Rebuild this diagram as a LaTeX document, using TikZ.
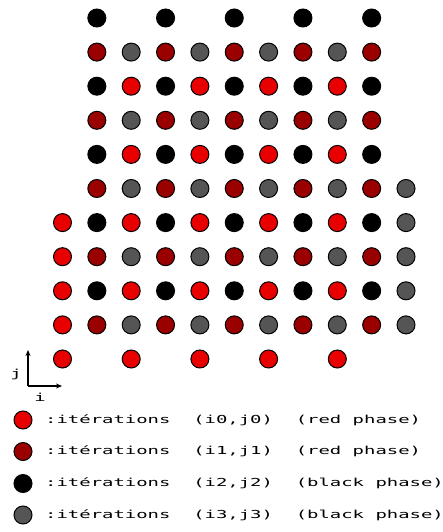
\documentclass[tikz,border=0pt]{standalone}
\usepackage{fontspec}
\usetikzlibrary{arrows.meta}
\newfontfamily\legfont[FakeStretch=1.72]{DejaVu Sans Mono}
\definecolor{cRed}{RGB}{232,0,0}
\definecolor{cDark}{RGB}{155,0,0}
\definecolor{cGray}{RGB}{85,85,85}
\begin{document}
\begin{tikzpicture}[x=1pt,y=-1pt,
  dot/.style={circle,draw=black,line width=1pt,minimum size=18pt,inner sep=0pt},
  rdot/.style={dot,fill=cRed},
  ddot/.style={dot,fill=cDark},
  kdot/.style={dot,fill=black},
  gdot/.style={dot,fill=cGray},
  legtext/.style={anchor=west,inner sep=0pt,font=\legfont\fontsize{11}{11}\selectfont},
  axlabel/.style={inner sep=0pt,font=\legfont\fontsize{11}{11}\selectfont},
  axarrow/.style={line width=1.3pt,-{Stealth[length=6pt,width=5pt]}}
]
\useasboundingbox (0,0) rectangle (443,532);
% row 0
\foreach \c in {1,3,5,7,9} \node[kdot] (n-\c-0) at ({62.5+34.35*\c},18) {};
% rows 1,3 : dark red / gray
\foreach \r/\y in {1/52.1,3/120.3}{
  \foreach \c in {1,3,5,7,9} \node[ddot] (n-\c-\r) at ({62.5+34.35*\c},\y) {};
  \foreach \c in {2,4,6,8} \node[gdot] (n-\c-\r) at ({62.5+34.35*\c},\y) {};
}
% rows 2,4 : black / red
\foreach \r/\y in {2/86.2,4/154.4}{
  \foreach \c in {1,3,5,7,9} \node[kdot] (n-\c-\r) at ({62.5+34.35*\c},\y) {};
  \foreach \c in {2,4,6,8} \node[rdot] (n-\c-\r) at ({62.5+34.35*\c},\y) {};
}
% row 5
\foreach \c in {1,3,5,7,9} \node[ddot] (n-\c-5) at ({62.5+34.35*\c},188.5) {};
\foreach \c in {2,4,6,8,10} \node[gdot] (n-\c-5) at ({62.5+34.35*\c},188.5) {};
% rows 6,8
\foreach \r/\y in {6/222.6,8/290.8}{
  \foreach \c in {0,2,4,6,8} \node[rdot] (n-\c-\r) at ({62.5+34.35*\c},\y) {};
  \foreach \c in {1,3,5,7,9} \node[kdot] (n-\c-\r) at ({62.5+34.35*\c},\y) {};
  \node[gdot] (n-10-\r) at ({62.5+34.35*10},\y) {};
}
% rows 7,9
\foreach \r/\y in {7/256.7,9/324.9}{
  \node[rdot] (n-0-\r) at (62.5,\y) {};
  \foreach \c in {1,3,5,7,9} \node[ddot] (n-\c-\r) at ({62.5+34.35*\c},\y) {};
  \foreach \c in {2,4,6,8,10} \node[gdot] (n-\c-\r) at ({62.5+34.35*\c},\y) {};
}
% row 10
\foreach \c in {0,2,4,6,8} \node[rdot] (n-\c-10) at ({62.5+34.35*\c},359) {};
% axes
\coordinate (o) at (28,386);
\coordinate (jtip) at (28,350);
\coordinate (itip) at (62,386);
\draw[axarrow] (o) -- (jtip);
\draw[axarrow] (o) -- (itip);
\node[axlabel] (jl) at (16,374) {j};
\node[axlabel] (il) at (40,397) {i};
% legend
\node[rdot] (l0) at (23,420) {};
\node[ddot] (l1) at (23,451.5) {};
\node[kdot] (l2) at (23,483.5) {};
\node[gdot] (l3) at (23,515) {};
\node[legtext] (t0) at (45,420) {:itérations~~(i0,j0)~~(red phase)};
\node[legtext] (t1) at (45,451.5) {:itérations~~(i1,j1)~~(red phase)};
\node[legtext] (t2) at (45,483.5) {:itérations~~(i2,j2)~~(black phase)};
\node[legtext] (t3) at (45,515) {:itérations~~(i3,j3)~~(black phase)};
\end{tikzpicture}
\end{document}
